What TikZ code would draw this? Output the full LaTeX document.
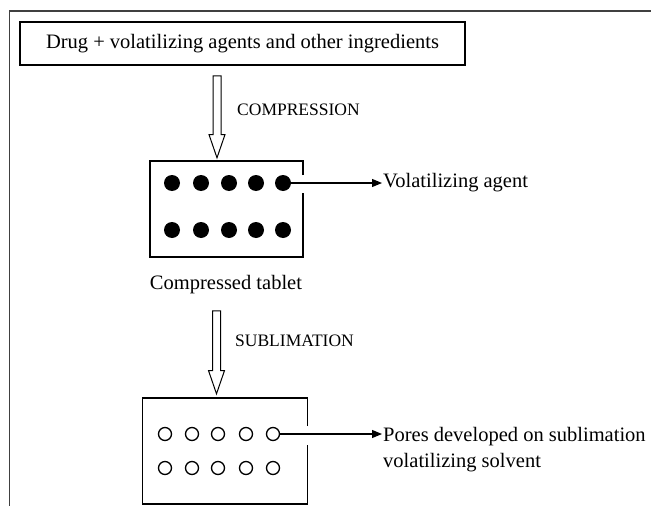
\documentclass[tikz,border=0pt]{standalone}
\usepackage{fontspec}
\setmainfont{Liberation Serif}
\usetikzlibrary{arrows.meta,shapes.arrows,positioning}

\begin{document}
\begin{tikzpicture}[x=1pt, y=-1pt, >={Triangle[length=10pt,width=8pt]},
    every node/.style={font=\fontsize{20.5}{26}\selectfont},
    procbox/.style={draw, line width=1.6pt, minimum width=445pt, minimum height=43pt, inner sep=0pt},
    flowarrow/.style={draw, line width=1pt, single arrow, single arrow head extend=4pt, single arrow tip angle=38, inner sep=3.5pt, shape border rotate=270},
    proclabel/.style={font=\fontsize{17.5}{20}\selectfont, anchor=west, inner sep=0pt},
    tabletbox/.style={inner sep=0pt},
    tabletline/.style={line width=1.5pt},
    granule/.style={circle, fill, inner sep=0pt, minimum size=16pt},
    pore/.style={circle, draw, line width=1.3pt, inner sep=0pt, minimum size=13pt}]

  \useasboundingbox (0,0) rectangle (651,506);

  % Page frame
  \draw[line width=1.5pt, black!75] (9.5,506) -- (9.5,11) -- (651,11);

  % Starting mixture
  \node[procbox] (mix) at (242.5,43.5) {Drug + volatilizing agents and other ingredients};

  % Compression step
  \node[flowarrow, minimum height=82pt] (compress) at (217,111) {};
  \node[proclabel] (compresslbl) at (237,110) {COMPRESSION};

  % Compressed tablet with volatilizing agent
  \node[tabletbox, minimum width=153pt, minimum height=96pt] (tab1) at (226.5,209) {};
  \foreach \x [count=\i] in {172,201,229,256,283} {
    \node[granule] (g1-\i) at (\x,183) {};
    \node[granule] (g2-\i) at (\x,230) {};
  }
  \draw[tabletline] (tab1.east |- g1-5) ++(0,-8) -- (tab1.north east) -- (tab1.north west)
    -- (tab1.south west) -- (tab1.south east) -- +(0,-64);
  \node[anchor=west, inner sep=1pt] (agent) at (382,183) {Volatilizing agent};
  \draw[->, line width=1.1pt] (g1-5) -- (agent);
  \node (tab1lbl) at (226,285) {Compressed tablet};

  % Sublimation step
  \node[flowarrow, minimum height=83pt] (sublime) at (216.5,346.5) {};
  \node[proclabel] (sublimelbl) at (235,341) {SUBLIMATION};

  % Porous tablet
  \node[tabletbox, minimum width=165pt, minimum height=106pt] (tab2) at (225,451) {};
  \foreach \x [count=\i] in {165,192,218,246,273} {
    \node[pore] (p1-\i) at (\x,434) {};
    \node[pore] (p2-\i) at (\x,468) {};
  }
  \draw[tabletline] (tab2.east |- p1-5) ++(0,-8) -- (tab2.north east) -- (tab2.north west)
    -- (tab2.south west) -- (tab2.south east) -- +(0,-59);
  \node[anchor=west, align=left, inner sep=1pt] (pores) at (382,450) {Pores developed on sublimation\\volatilizing solvent};
  \draw[->, line width=1.1pt] (p1-5) -- (p1-5 -| pores.west);
\end{tikzpicture}
\end{document}
